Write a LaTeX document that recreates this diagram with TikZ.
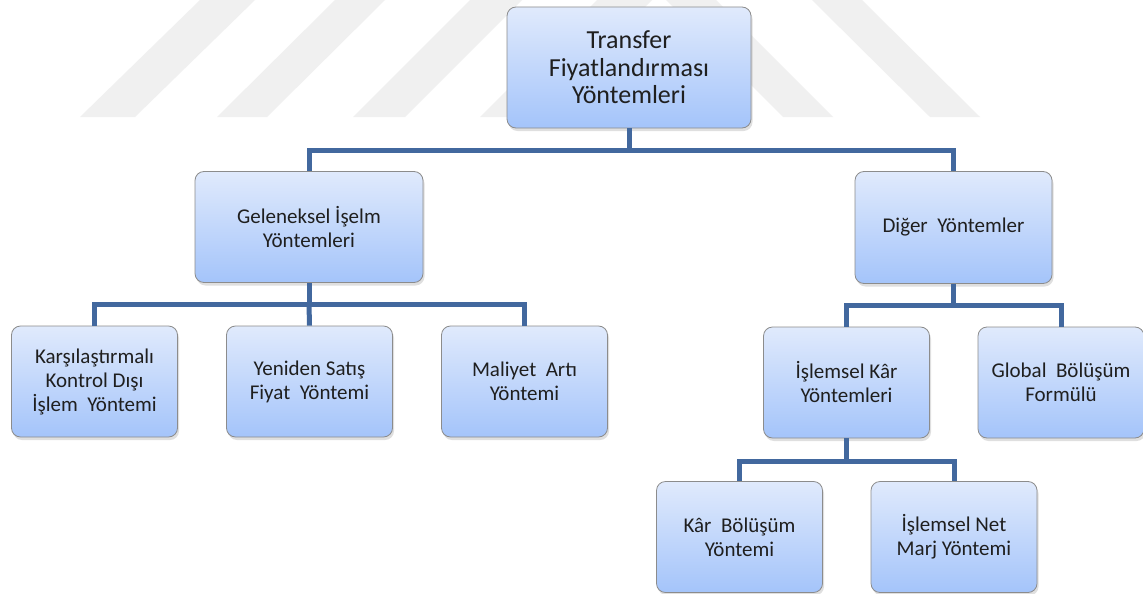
\documentclass[tikz,border=0pt]{standalone}
\usepackage{fontspec}
\setmainfont{Carlito}
\usetikzlibrary{shadows}

\definecolor{boxtop}{RGB}{224,234,252}
\definecolor{boxbot}{RGB}{164,196,250}
\definecolor{linkblue}{RGB}{66,104,158}
\definecolor{markgray}{RGB}{240,240,240}

\tikzset{
  box/.style={rounded corners=9pt, draw=black!45, line width=0.8pt,
    top color=boxtop, bottom color=boxbot, align=center, inner sep=0pt,
    text=black!88, font=\fontsize{21}{24}\selectfont,
    drop shadow={opacity=0.25, shadow xshift=1.5pt, shadow yshift=-3pt}},
  rootbox/.style={box, font=\fontsize{26}{27.5}\selectfont,
    minimum width=244pt, minimum height=121pt},
  midbox/.style={box, minimum width=228pt, minimum height=111pt},
  leafbox/.style={box, minimum width=166pt, minimum height=111pt},
  link/.style={draw=linkblue, line width=5pt},
  stripe/.style={fill=markgray, draw=none}
}

\begin{document}
\begin{tikzpicture}[x=1pt, y=-1pt]
\useasboundingbox (0,0) rectangle (1143,594);
\fill[white] (0,0) rectangle (1143,594);

% background emblem stripes
\fill[stripe] (80,117) -- (135,117) -- (255,0) -- (200,0) -- cycle;
\fill[stripe] (217,117) -- (267,117) -- (385,0) -- (335,0) -- cycle;
\fill[stripe] (353,117) -- (405,117) -- (522,0) -- (470,0) -- cycle;
\fill[stripe] (480,117) -- (535,117) -- (652,0) -- (597,0) -- cycle;
\fill[stripe] (666,0) -- (716,0) -- (833,117) -- (783,117) -- cycle;
\fill[stripe] (812,0) -- (862,0) -- (980,117) -- (930,117) -- cycle;

% boxes
\node[rootbox] (root) at (629,67.5) {Transfer\\Fiyatlandırması\\Yöntemleri};

\node[midbox] (gel) at (309,227) {Geleneksel İşelm\\Yöntemleri};
\node[box, minimum width=197pt, minimum height=112pt] (dig) at (953.5,227.5) {Diğer~ Yöntemler};

\node[leafbox] (kar) at (94.5,381.5) {Karşılaştırmalı\\Kontrol Dışı\\İşlem~ Yöntemi};
\node[leafbox] (yen) at (309.5,381.5) {Yeniden Satış\\Fiyat~ Yöntemi};
\node[leafbox] (mal) at (524.5,381.5) {Maliyet~ Artı\\Yöntemi};

\node[leafbox] (isk) at (846.5,382.5) {İşlemsel Kâr\\Yöntemleri};
\node[leafbox] (glo) at (1061,382.5) {Global~ Bölüşüm\\Formülü};

\node[leafbox] (kbo) at (739.5,537) {Kâr~ Bölüşüm\\Yöntemi};
\node[leafbox] (net) at (954,537) {İşlemsel Net\\Marj Yöntemi};

% connectors
\draw[link] (root.south) -- (root.south |- 0,150) -| (gel.north);
\draw[link] (root.south |- 0,150) -| (dig.north);

\draw[link] (gel.south) -- (gel.south |- 0,304) -| (kar.north);
\draw[link] (gel.south |- 0,304) -- (yen.north);
\draw[link] (gel.south |- 0,304) -| (mal.north);

\draw[link] (dig.south) -- (dig.south |- 0,305) -| (isk.north);
\draw[link] (dig.south |- 0,305) -| (glo.north);

\draw[link] (isk.south) -- (isk.south |- 0,461) -| (kbo.north);
\draw[link] (isk.south |- 0,461) -| (net.north);
\end{tikzpicture}
\end{document}
